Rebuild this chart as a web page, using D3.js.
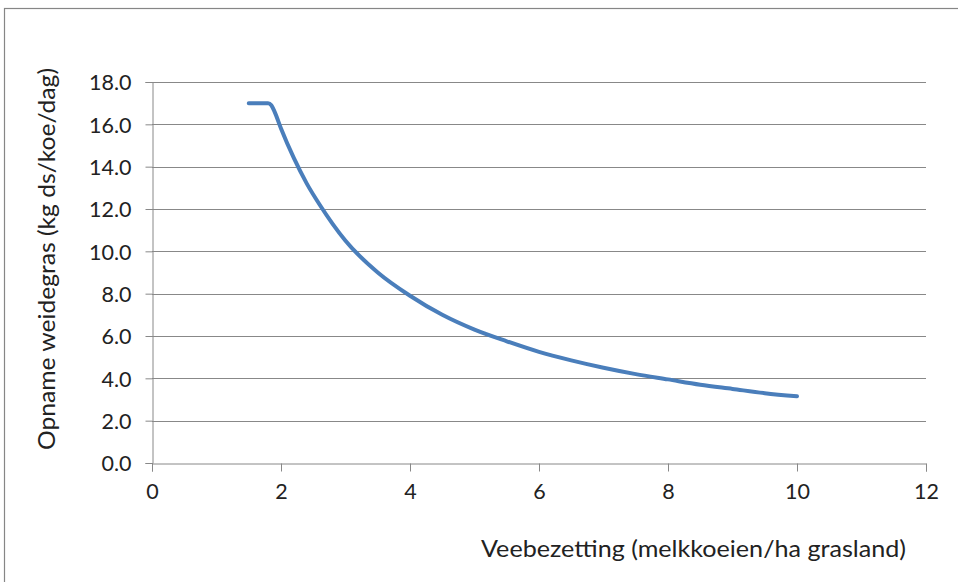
<!DOCTYPE html>
<html>
<head>
<meta charset="utf-8">
<script src="https://cdn.jsdelivr.net/npm/d3@7"></script>
<style>
  html, body { margin: 0; padding: 0; background: #fff; }
  svg { display: block; font-family: Lato, "Open Sans", sans-serif; }
</style>
</head>
<body>
<svg id="chart" width="958" height="582"></svg>
<script>
// Stocking density (cows/ha) and grazed grass intake (kg DM/cow/day)
const stocking = [1.5, 1.6, 1.7, 1.8, 1.85, 1.9, 2.0, 2.2, 2.4, 2.6, 2.8, 3.0, 3.5, 4.0, 4.5, 5.0, 5.5, 6.0, 6.5, 7.0, 7.5, 8.0, 8.5, 9.0, 9.5, 10.0];
const intake   = [17.0, 17.0, 17.0, 17.0, 16.9, 16.6, 15.8, 14.4, 13.2, 12.2, 11.3, 10.5, 9.0, 7.9, 7.0, 6.3, 5.75, 5.25, 4.85, 4.5, 4.2, 3.95, 3.7, 3.5, 3.3, 3.15];

const xTicks = [0, 2, 4, 6, 8, 10, 12];
const yTicks = [0, 2, 4, 6, 8, 10, 12, 14, 16, 18];

const xTitle = "Veebezetting (melkkoeien/ha grasland)";
const yTitle = "Opname weidegras (kg ds/koe/dag)";

const svg = d3.select("#chart");
const plotLeft = 152, plotRight = 926, plotTop = 82, plotBottom = 463;

// outer chart frame
svg.append("rect")
  .attr("x", 4.5).attr("y", 8.5)
  .attr("width", 1000).attr("height", 1000)
  .attr("fill", "none").attr("stroke", "#868686").attr("stroke-width", 1.2);

const x = d3.scaleLinear().domain([0, 12]).range([plotLeft, plotRight]);
const y = d3.scaleLinear().domain([0, 18]).range([plotBottom, plotTop]);

// horizontal gridlines
svg.append("g").selectAll("line")
  .data(yTicks.filter(d => d > 0))
  .join("line")
  .attr("x1", plotLeft).attr("x2", plotRight)
  .attr("y1", d => Math.round(y(d)) + 0.5).attr("y2", d => Math.round(y(d)) + 0.5)
  .attr("stroke", "#888").attr("stroke-width", 1);

// y axis
const yAxis = svg.append("g")
  .attr("transform", `translate(${plotLeft + 0.5},0)`)
  .call(d3.axisLeft(y).tickValues(yTicks).tickFormat(d3.format(".1f")).tickSize(7).tickPadding(14));

// x axis
const xAxis = svg.append("g")
  .attr("transform", `translate(0,${plotBottom + 0.5})`)
  .call(d3.axisBottom(x).tickValues(xTicks).tickFormat(d3.format("d")).tickSize(8).tickPadding(12));

[yAxis, xAxis].forEach(g => {
  g.select(".domain").attr("stroke", "#888");
  g.selectAll(".tick line").attr("stroke", "#888");
  g.selectAll(".tick text")
    .attr("fill", "#222")
    .style("font-size", "21.5px")
    .style("font-family", "Lato, 'Open Sans', sans-serif");
});
yAxis.selectAll(".tick text").attr("dy", "0.36em");

// curve
const line = d3.line()
  .x((d, i) => x(stocking[i]))
  .y(d => y(d))
  .curve(d3.curveMonotoneX);

svg.append("path")
  .datum(intake)
  .attr("d", line)
  .attr("fill", "none")
  .attr("stroke", "#4a7ebb")
  .attr("stroke-width", 4)
  .attr("stroke-linecap", "round")
  .attr("stroke-linejoin", "round");

// axis titles
svg.append("text")
  .attr("x", 906).attr("y", 557)
  .attr("text-anchor", "end")
  .attr("fill", "#222")
  .attr("textLength", 425)
  .attr("lengthAdjust", "spacingAndGlyphs")
  .style("font-size", "23.5px")
  .text(xTitle);

svg.append("text")
  .attr("transform", `translate(55,259) rotate(-90)`)
  .attr("text-anchor", "middle")
  .attr("fill", "#222")
  .attr("textLength", 382)
  .attr("lengthAdjust", "spacingAndGlyphs")
  .style("font-size", "23.5px")
  .text(yTitle);
</script>
</body>
</html>
